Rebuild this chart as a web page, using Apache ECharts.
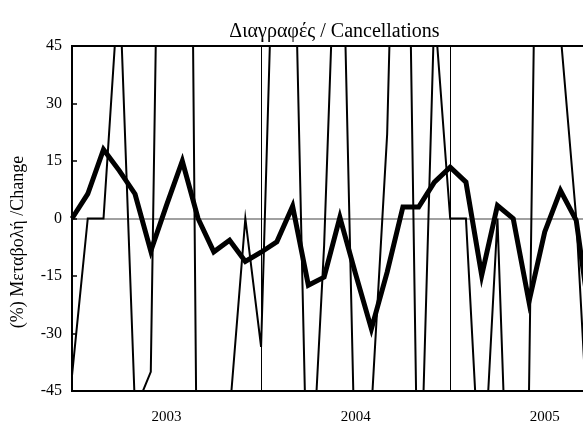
<!DOCTYPE html>
<html><head><meta charset="utf-8">
<script src="https://cdn.jsdelivr.net/npm/echarts@6/dist/echarts.min.js"></script>
<style>html,body{margin:0;padding:0;background:#fff;overflow:hidden;width:583px;height:425px}#c{width:592px;height:425px}</style>
</head><body><div id="c"></div>
<script>
const months = [
  '2003-01','2003-02','2003-03','2003-04','2003-05','2003-06','2003-07','2003-08','2003-09','2003-10','2003-11','2003-12',
  '2004-01','2004-02','2004-03','2004-04','2004-05','2004-06','2004-07','2004-08','2004-09','2004-10','2004-11','2004-12',
  '2005-01','2005-02','2005-03','2005-04','2005-05','2005-06','2005-07','2005-08','2005-09','2005-10'
];
// thick line
const changeThick = [0,6.4,18,12.5,6.4,-8.5,3.5,15,0,-8.7,-5.7,-11.2,-8.8,-6.1,3.2,-17.4,-15.3,0.3,-14.5,-28.8,-14,3,3,9.5,13.4,9.5,-14.8,3.4,0,-21.7,-3.5,7.3,-0.5,-30];
// thin line
const changeThin = [-41,0,0,63,-50,-40,230,370,-105,-80,-51,0,-33.5,108,98,-86,-7,110,-72,-50,22,183,-90,55,0,0,-77,0,-118,-46,255,48.5,0,-75];
const yearLabelMonths = ['2003-07','2004-07','2005-07'];
const yearBreaks = ['2004-01','2005-01'];
const yTicks = [-45,-30,-15,0,15,30,45];

const chart = echarts.init(document.getElementById('c'));
const serif = 'Liberation Serif';
chart.setOption({
  animation: false,
  backgroundColor: '#fff',
  title: {
    text: 'Διαγραφές / Cancellations',
    left: 329.5, top: 17, textAlign: 'center',
    textStyle: {fontFamily: serif, fontSize: 20, fontWeight: 'normal', color: '#000'}
  },
  graphic: [{
    type: 'text', x: 18, y: 242, rotation: Math.PI / 2,
    style: {text: '(%) Μεταβολή /Change', font: '18px "Liberation Serif"', fill: '#000',
      textAlign: 'center', textVerticalAlign: 'middle'}
  }],
  grid: {left: 72, right: 0, top: 46, bottom: 32, show: true, borderColor: '#000', borderWidth: 2},
  xAxis: {
    type: 'category', data: months, boundaryGap: false,
    axisLine: {onZero: false, lineStyle: {color: '#000', width: 2}},
    axisTick: {show: false},
    splitLine: {show: false},
    axisLabel: {
      interval: (i, v) => yearLabelMonths.indexOf(v) >= 0,
      formatter: v => v.slice(0, 4),
      fontFamily: serif, fontSize: 15, color: '#000', margin: 19
    }
  },
  yAxis: {
    type: 'value', min: yTicks[0], max: yTicks[yTicks.length - 1], interval: 15,
    axisLine: {show: true, lineStyle: {color: '#000', width: 2}},
    axisTick: {show: true, inside: true, length: 5, lineStyle: {color: '#000', width: 1.5}},
    splitLine: {show: false},
    axisLabel: {fontFamily: serif, fontSize: 16, color: '#000', margin: 10}
  },
  series: [
    {
      type: 'line', data: [], z: 1, silent: true,
      markLine: {
        z: 0,
        symbol: ['none', 'none'], silent: true, label: {show: false}, animation: false,
        data: [
          {yAxis: 0, lineStyle: {color: '#808080', width: 1.5, type: 'solid'}},
          {xAxis: yearBreaks[0], lineStyle: {color: '#000', width: 1, type: 'solid'}},
          {xAxis: yearBreaks[1], lineStyle: {color: '#000', width: 1, type: 'solid'}}
        ]
      }
    },
    {
      type: 'line', data: changeThin, z: 2, symbol: 'none', clip: true,
      lineStyle: {color: '#000', width: 2, join: 'miter'}
    },
    {
      type: 'line', data: changeThick, z: 3, symbol: 'none', clip: true,
      lineStyle: {color: '#000', width: 5, join: 'miter'}
    }
  ]
});
</script>
</body></html>
